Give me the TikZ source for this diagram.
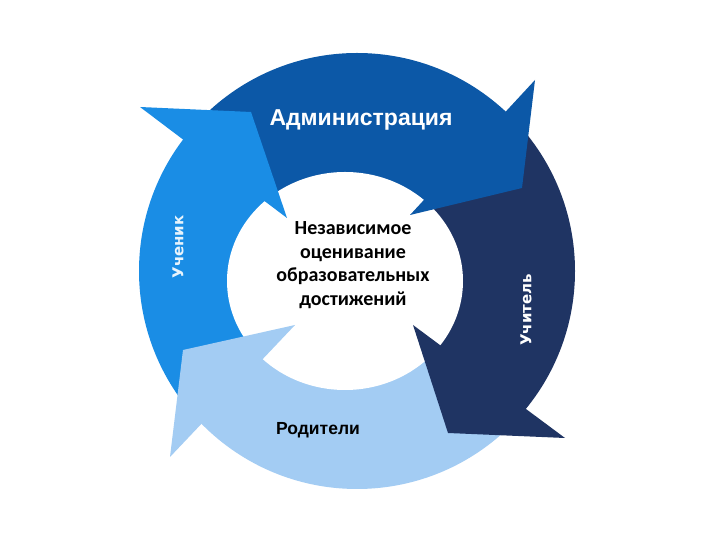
\documentclass[tikz,border=0pt]{standalone}
\usepackage{fontspec}
\setmainfont{Liberation Sans}
\newfontfamily\calib{Carlito}
\newfontfamily\verd{DejaVu Sans}
\definecolor{admblue}{RGB}{12,88,167}
\definecolor{uchnavy}{RGB}{31,52,99}
\definecolor{rodlight}{RGB}{163,204,243}
\definecolor{uchblue}{RGB}{26,141,229}
\tikzset{
    ringtext/.style={inner sep=1pt, font=\bfseries\fontsize{23}{27}\selectfont},
    sidetext/.style={inner sep=1pt, rotate=90, font=\verd\bfseries\fontsize{15}{18}\selectfont}
}

\begin{document}
\begin{tikzpicture}[x=1pt, y=1pt]
    \useasboundingbox (0,0) rectangle (720,540);
    \fill[white] (0,0) rectangle (720,540);

    \coordinate (oc) at (357,269);
    \coordinate (ic) at (345,259);

    \begin{scope}
        \clip (oc) circle[radius=218pt];
        \fill[uchblue] (ic) -- ++(130:300pt) arc[start angle=130, end angle=220, radius=300pt] -- cycle;
        \fill[admblue] (ic) -- ++(42:300pt) arc[start angle=42, end angle=130, radius=300pt] -- cycle;
        \fill[uchnavy] (ic) -- ++(-38:300pt) arc[start angle=-38, end angle=42, radius=300pt] -- cycle;
        \fill[rodlight] (ic) -- ++(-140:300pt) arc[start angle=-140, end angle=-38, radius=300pt] -- cycle;
    \end{scope}
    \fill[white] (ic) ellipse[x radius=118pt, y radius=109pt];

    \fill[uchblue] (140,433) -- (251,428) -- (287,322) -- cycle;
    \fill[admblue] (535,460) -- (522,352) -- (410,325) -- cycle;
    \fill[uchnavy] (413,215) -- (448,107) -- (565,102) -- cycle;
    \fill[rodlight] (295,215) -- (183,190) -- (170,83) -- cycle;

    \node[ringtext, text=white] (adm) at (361,420) {Администрация};
    \node[sidetext, text=white!90!uchblue] (uchenik) at (178,293) {Ученик};
    \node[sidetext, text=white] (uchitel) at (526,230) {Учитель};
    \node[ringtext, font=\bfseries\fontsize{17.5}{21}\selectfont, text=black] (roditeli) at (318,110) {Родители};
    \node[align=center, font=\calib\bfseries\fontsize{20}{23.5}\selectfont] (ocenka) at (353,275) {Независимое\\оценивание\\образовательных\\достижений};
\end{tikzpicture}
\end{document}
